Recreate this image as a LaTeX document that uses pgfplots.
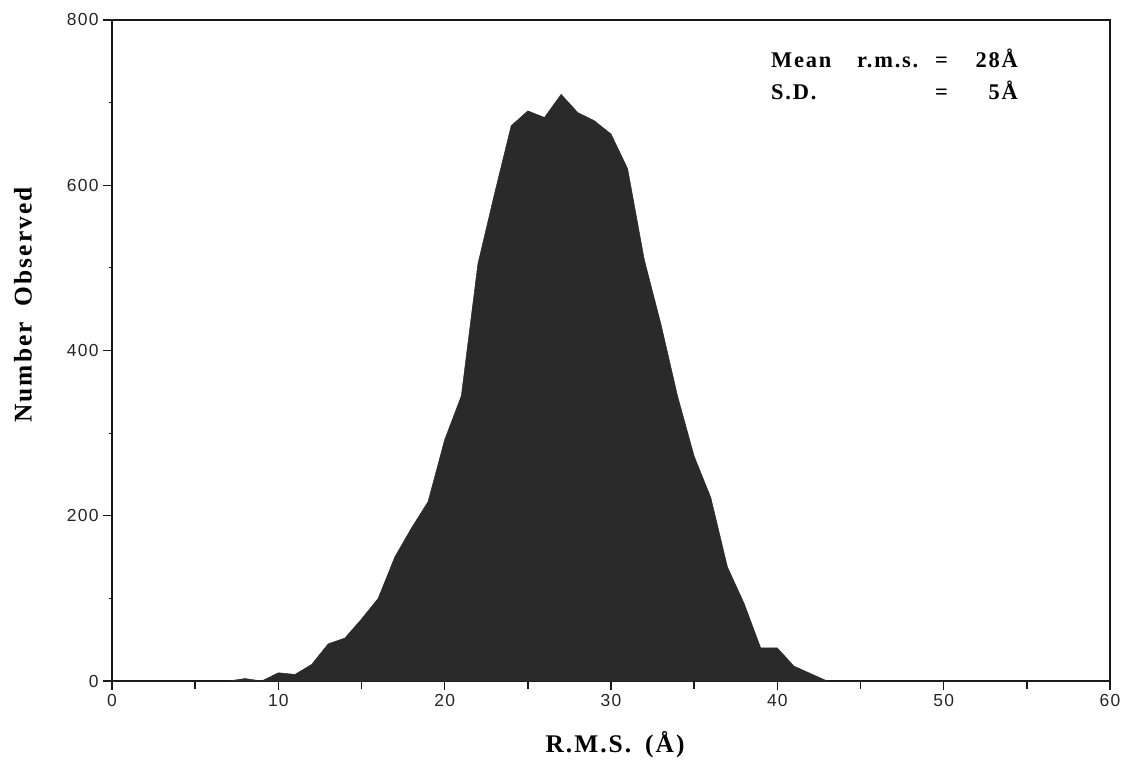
\documentclass[border=0pt]{standalone}
\usepackage{fontspec}
\setmainfont{Liberation Serif}
\newfontfamily\tickfont[LetterSpace=7]{Liberation Sans}
\newfontfamily\labfont[LetterSpace=8]{Liberation Serif}
\usepackage{pgfplots}
\pgfplotsset{compat=1.18}

\definecolor{histfill}{RGB}{42,42,42}
\definecolor{axisink}{RGB}{25,25,25}

\begin{document}
\begin{tikzpicture}
\begin{axis}[
    name=ax,
    at={(0,0)}, anchor=south west,
    scale only axis,
    width=998bp, height=661bp,
    xmin=0, xmax=60, ymin=0, ymax=800,
    axis line style={axisink, line width=1.6bp},
    xtick={0,10,...,60},
    minor xtick={5,15,...,55},
    ytick={0,200,...,800},
    extra y ticks={100,300,500,700},
    extra y tick labels={},
    extra y tick style={major tick length=3bp, tick style={line width=0.8bp, axisink}},
    xtick pos=bottom, ytick pos=left,
    tick align=outside,
    major tick length=9bp, minor tick length=8bp,
    tick style={axisink, line width=1.4bp},
    /pgf/number format/assume math mode=true,
    ticklabel style={font=\tickfont\fontsize{17.5}{19}\selectfont, text=black!85},
    yticklabel style={xshift=-1bp},
    xticklabel style={yshift=-1bp},
    clip=false,
]

\addplot[fill=histfill, draw=histfill, line width=0.5bp] coordinates {
    (0,0) (1,0) (2,0) (3,0) (4,0) (5,0) (6,0) (7,0)
    (8,3) (9,0) (10,10) (11,8) (12,20) (13,45) (14,52)
    (15,75) (16,100) (17,150) (18,185) (19,217) (20,292)
    (21,345) (22,505) (23,590) (24,672) (25,690) (26,682)
    (27,710) (28,688) (29,678) (30,662) (31,620) (32,510)
    (33,432) (34,345) (35,272) (36,222) (37,138) (38,94)
    (39,40) (40,40) (41,18) (42,9) (43,0) (44,0) (45,0)
    (50,0) (55,0) (60,0)
} \closedcycle;

% statistics box
\begin{scope}[every node/.style={inner sep=0pt, font=\labfont\bfseries\fontsize{22.5}{24}\selectfont}]
\node[anchor=base west] at (axis cs:39.62,742) {Mean};
\node[anchor=base west] at (axis cs:44.79,742) {r.m.s.};
\node[anchor=base west] at (axis cs:49.48,742) {=};
\node[anchor=base east] at (axis cs:54.47,742) {28Å};
\node[anchor=base west] at (axis cs:39.62,704) {S.D.};
\node[anchor=base west] at (axis cs:49.48,704) {=};
\node[anchor=base east] at (axis cs:54.47,704) {5Å};
\end{scope}
\end{axis}

% axis titles
\node[rotate=90, anchor=center, inner sep=0pt,
      font=\labfont\bfseries\fontsize{25.5}{28}\selectfont]
      at ([xshift=-89bp, yshift=376bp]ax.south west) {Number\hspace{16bp}Observed};
\node[anchor=center, inner sep=0pt,
      font=\labfont\bfseries\fontsize{25.5}{28}\selectfont]
      at ([xshift=503bp, yshift=-64bp]ax.south west) {R.M.S.\hspace{14bp}(Å)};

\pgfresetboundingbox
\path[use as bounding box] ([xshift=-112bp, yshift=-94bp]ax.south west)
    rectangle ([xshift=20bp, yshift=20bp]ax.north east);
\end{tikzpicture}
\end{document}
